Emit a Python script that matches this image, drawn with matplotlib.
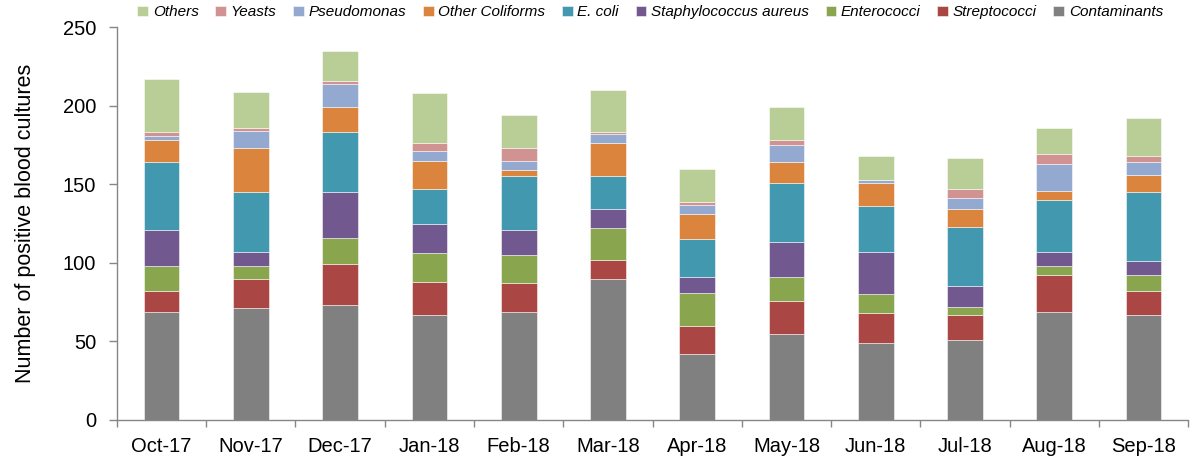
import numpy as np
from matplotlib import pyplot as plt

plt.rcParams['font.family'] = ['Liberation Sans', 'DejaVu Sans']

months = ['Oct-17', 'Nov-17', 'Dec-17', 'Jan-18', 'Feb-18', 'Mar-18',
          'Apr-18', 'May-18', 'Jun-18', 'Jul-18', 'Aug-18', 'Sep-18']

# stacked from bottom to top
contaminants = [69, 71, 73, 67, 69, 90, 42, 55, 49, 51, 69, 67]
streptococci = [13, 19, 26, 21, 18, 12, 18, 21, 19, 16, 23, 15]
enterococci = [16, 8, 17, 18, 18, 20, 21, 15, 12, 5, 6, 10]
staph_aureus = [23, 9, 29, 19, 16, 12, 10, 22, 27, 13, 9, 9]
e_coli = [43, 38, 38, 22, 34, 21, 24, 38, 29, 38, 33, 44]
other_coliforms = [14, 28, 16, 18, 4, 21, 16, 13, 15, 11, 6, 11]
pseudomonas = [3, 11, 15, 6, 6, 6, 6, 11, 2, 7, 17, 8]
yeasts = [2, 2, 2, 5, 8, 1, 2, 3, 0, 6, 6, 4]
others = [34, 23, 19, 32, 21, 27, 21, 21, 15, 20, 17, 24]

series = [
    ('Contaminants', contaminants, '#808080'),
    ('Streptococci', streptococci, '#AA4643'),
    ('Enterococci', enterococci, '#89A54E'),
    ('Staphylococcus aureus', staph_aureus, '#71588F'),
    ('E. coli', e_coli, '#4198AF'),
    ('Other Coliforms', other_coliforms, '#DB843D'),
    ('Pseudomonas', pseudomonas, '#93A9CF'),
    ('Yeasts', yeasts, '#D19392'),
    ('Others', others, '#B9CD96'),
]

fig = plt.figure(figsize=(11.93, 4.61), dpi=100)
ax = fig.add_axes([0.098, 0.089, 0.898, 0.852])

x = np.arange(len(months))
bottom = np.zeros(len(months))
handles = []
for name, vals, col in series:
    b = ax.bar(x, vals, width=0.4, bottom=bottom, color=col, label=name,
               edgecolor=(1, 1, 1, 0.6), linewidth=0.6)
    handles.append(b)
    bottom += np.array(vals)

ax.set_xlim(-0.5, len(months) - 0.5)
ax.set_ylim(0, 250)
ax.set_yticks(range(0, 251, 50))
ax.set_xticks(x)
ax.set_xticklabels(months)
ax.set_xticks(np.arange(-0.5, len(months), 1), minor=True)
ax.tick_params(axis='x', which='major', length=0, labelsize=14.5, pad=12)
ax.tick_params(axis='x', which='minor', length=5, width=1, color='#868686')
ax.tick_params(axis='y', length=6, width=1, color='#868686', labelsize=14.5, pad=9)

for s in ['top', 'right']:
    ax.spines[s].set_visible(False)
for s in ['left', 'bottom']:
    ax.spines[s].set_color('#868686')
    ax.spines[s].set_linewidth(1)

ax.set_ylabel('Number of positive blood cultures', fontsize=15.5, labelpad=19)

leg = fig.legend(handles[::-1], [s[0] for s in series[::-1]],
                 loc='center', bbox_to_anchor=(0.545, 0.973), ncol=9,
                 frameon=False, prop={'style': 'italic', 'size': 11},
                 handlelength=0.7, handleheight=0.7, handletextpad=0.3,
                 columnspacing=1.1, borderaxespad=0)

fig.savefig('out.png', dpi=100)
